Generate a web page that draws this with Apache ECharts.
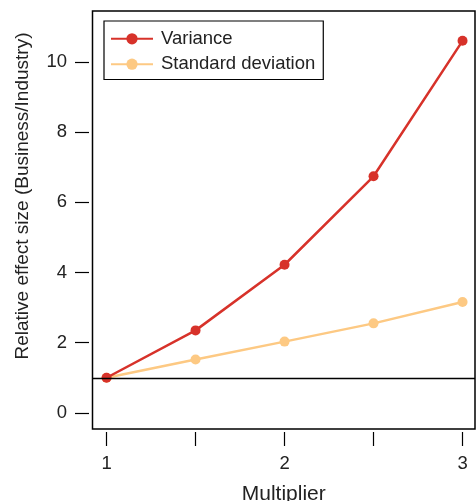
<!DOCTYPE html>
<html>
<head>
<meta charset="utf-8">
<script src="https://cdn.jsdelivr.net/npm/echarts@6/dist/echarts.min.js"></script>
<style>
  html, body { margin: 0; padding: 0; background: #fff; }
  #chart { width: 476px; height: 501px; }
</style>
</head>
<body>
<div id="chart"></div>
<script>
// Multiplier levels and the relative effect sizes measured at each
const multipliers = [1, 1.5, 2, 2.5, 3];
const varianceRatio = [1.0, 2.35, 4.22, 6.74, 10.6];
const sdRatio = [1.0, 1.52, 2.03, 2.55, 3.16];

const xTicks = [1, 1.5, 2, 2.5, 3];
const xLabels = [1, 2, 3];
const yTicks = [0, 2, 4, 6, 8, 10];

const FONT = '"Liberation Sans", Arial, Helvetica, sans-serif';
const TEXT = '#222';
const RED = '#d7322a';
const ORANGE = '#fdc983';

function pairs(xs, ys) { return xs.map((x, i) => [x, ys[i]]); }

const chart = echarts.init(document.getElementById('chart'), null, { renderer: 'canvas' });
chart.setOption({
  animation: false,
  backgroundColor: '#fff',
  grid: {
    left: 92.5, right: 1, top: 11, bottom: 72,
    outerBoundsMode: 'none',
    show: true, borderColor: '#000', borderWidth: 1.5, backgroundColor: 'transparent'
  },
  legend: {
    left: 104, top: 21,
    orient: 'vertical',
    backgroundColor: '#fff',
    borderColor: '#000', borderWidth: 1.2,
    padding: [8.3, 8, 5.8, 6],
    itemWidth: 42, itemHeight: 14, itemGap: 6.4,
    textStyle: { fontFamily: FONT, fontSize: 18.5, color: TEXT, padding: [0, 0, 0, 3] },
    data: ['Variance', 'Standard deviation']
  },
  xAxis: {
    type: 'value', min: 0.921, max: 3.07, offset: 3,
    axisLine: { show: false, onZero: false },
    splitLine: { show: false },
    axisTick: { show: true, inside: false, length: 14, lineStyle: { color: '#000', width: 1.2 }, customValues: xTicks },
    axisLabel: { fontFamily: FONT, fontSize: 18.5, color: TEXT, margin: 22, customValues: xLabels },
    name: 'Multiplier', nameLocation: 'middle', nameGap: 52,
    nameTextStyle: { fontFamily: FONT, fontSize: 21, color: TEXT }
  },
  yAxis: {
    type: 'value', min: -0.46, max: 11.45, offset: 3.5,
    axisLine: { show: false, onZero: false },
    splitLine: { show: false },
    axisTick: { show: true, inside: false, length: 14, lineStyle: { color: '#000', width: 1.2 }, customValues: yTicks },
    axisLabel: { fontFamily: FONT, fontSize: 18.5, color: TEXT, margin: 22, customValues: yTicks },
    name: 'Relative effect size (Business/Industry)', nameLocation: 'middle', nameGap: 57,
    nameTextStyle: { fontFamily: FONT, fontSize: 19, color: TEXT, padding: [0, 0, 0, 48] }
  },
  series: [
    {
      name: 'Standard deviation', type: 'line', z: 3,
      data: pairs(multipliers, sdRatio),
      symbol: 'circle', symbolSize: 10,
      lineStyle: { color: ORANGE, width: 2.5 },
      itemStyle: { color: ORANGE },
      markLine: {
        silent: true, symbol: 'none', label: { show: false },
        lineStyle: { color: '#000', width: 1.3, type: 'solid' },
        data: [{ yAxis: 1 }]
      }
    },
    {
      name: 'Variance', type: 'line', z: 4,
      data: pairs(multipliers, varianceRatio),
      symbol: 'circle', symbolSize: 10,
      lineStyle: { color: RED, width: 2.5 },
      itemStyle: { color: RED }
    }
  ]
});
</script>
</body>
</html>
